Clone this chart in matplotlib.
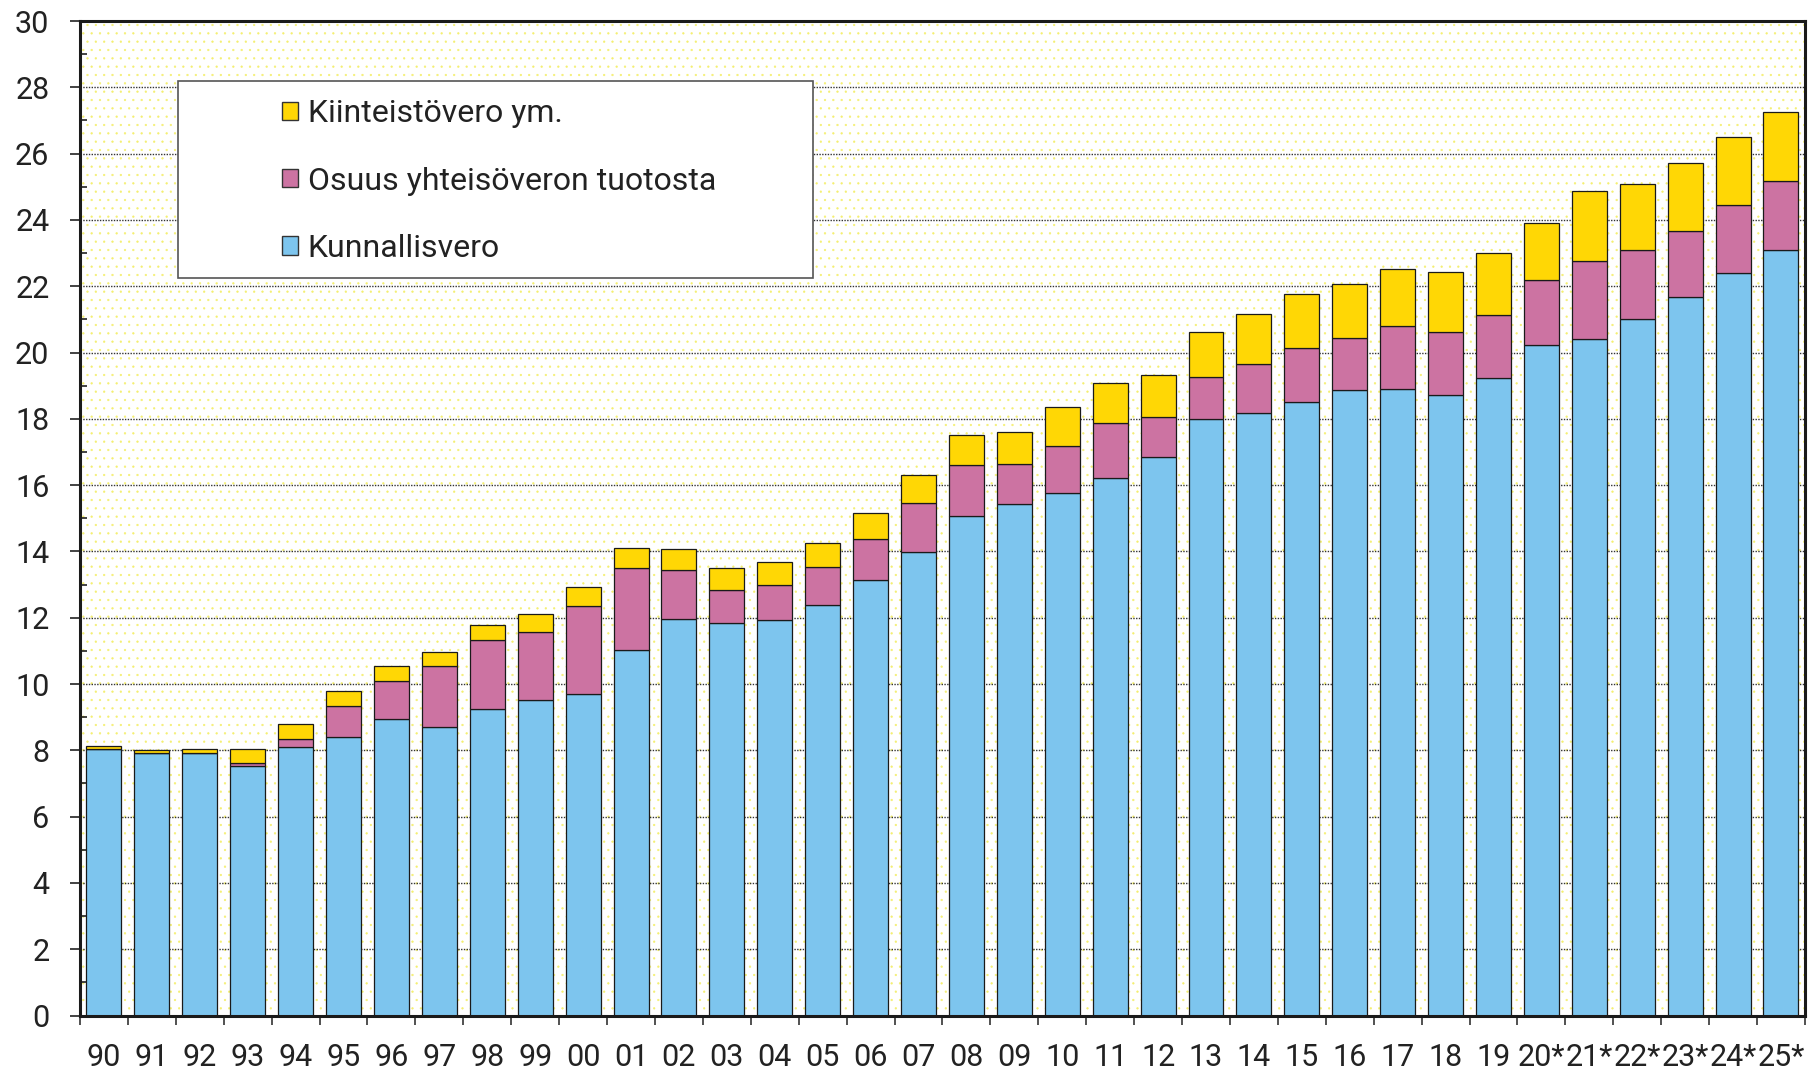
import matplotlib
matplotlib.use("Agg")
import matplotlib.pyplot as plt
import matplotlib.patches as mpatches
from matplotlib.ticker import MultipleLocator
import numpy as np

plt.rcParams['font.family'] = ['Roboto', 'DejaVu Sans']
plt.rcParams['hatch.linewidth'] = 0.4

years = ['90', '91', '92', '93', '94', '95', '96', '97', '98', '99',
         '00', '01', '02', '03', '04', '05', '06', '07', '08', '09',
         '10', '11', '12', '13', '14', '15', '16', '17', '18', '19',
         '20*', '21*', '22*', '23*', '24*', '25*']

# mrd euroa
kunnallisvero = [8.05, 7.93, 7.93, 7.54, 8.11, 8.41, 8.95, 8.70, 9.25, 9.52,
                 9.69, 11.04, 11.95, 11.85, 11.93, 12.37, 13.13, 13.98, 15.08, 15.44,
                 15.77, 16.22, 16.84, 17.98, 18.18, 18.52, 18.87, 18.91, 18.73, 19.23,
                 20.22, 20.42, 21.01, 21.67, 22.40, 23.09]
yhteisovero = [0.00, 0.00, 0.00, 0.09, 0.24, 0.93, 1.15, 1.85, 2.08, 2.06,
               2.67, 2.45, 1.49, 0.99, 1.06, 1.16, 1.25, 1.47, 1.52, 1.20,
               1.41, 1.65, 1.22, 1.29, 1.48, 1.62, 1.56, 1.89, 1.89, 1.91,
               1.97, 2.35, 2.08, 1.99, 2.06, 2.08]
kiinteistovero = [0.08, 0.09, 0.10, 0.42, 0.45, 0.46, 0.45, 0.42, 0.45, 0.52,
                  0.57, 0.62, 0.63, 0.66, 0.70, 0.72, 0.79, 0.84, 0.92, 0.96,
                  1.17, 1.21, 1.27, 1.36, 1.51, 1.61, 1.65, 1.73, 1.80, 1.87,
                  1.72, 2.11, 2.00, 2.05, 2.05, 2.08]

labels = ['Kiinteistövero ym.', 'Osuus yhteisöveron tuotosta', 'Kunnallisvero']
colors = ['#FFD705', '#CC73A2', '#7DC5EE']

x = np.arange(len(years))
b = np.array(kunnallisvero)
p = np.array(yhteisovero)
k = np.array(kiinteistovero)

fig = plt.figure(figsize=(18.14, 10.72), dpi=100)
ax = fig.add_axes([0.0441, 0.0527, 0.9509, 0.9277])

# light yellow dotted background
ax.patch.set_facecolor('white')
ax.patch.set_hatch('..')
ax.patch.set_edgecolor('#F4EF70')
ax.patch.set_linewidth(0)

w = 0.73
ec = '#1a1a1a'
ax.bar(x, b, w, color=colors[2], edgecolor=ec, linewidth=0.9, zorder=3)
ax.bar(x, p, w, bottom=b, color=colors[1], edgecolor=ec, linewidth=0.9, zorder=3)
ax.bar(x, k, w, bottom=b + p, color=colors[0], edgecolor=ec, linewidth=0.9, zorder=3)

ax.set_xlim(-0.5, len(years) - 0.5)
ax.set_ylim(0, 30)

ax.yaxis.set_major_locator(MultipleLocator(2))
ax.yaxis.set_minor_locator(MultipleLocator(1))
ax.yaxis.grid(True, which='major', linestyle=(0, (1, 1)), color='#333333', linewidth=1.0)
ax.set_axisbelow(True)

ax.tick_params(axis='y', which='major', direction='out', length=7, width=1.2,
               labelsize=22, pad=15, colors='#222222')
ax.tick_params(axis='y', which='minor', direction='in', length=5, width=1.2, color='#222222')

ax.set_xticks(x)
ax.set_xticklabels(years)
ax.set_xticks(np.arange(-0.5, len(years)), minor=True)
ax.tick_params(axis='x', which='major', length=0, labelsize=22, pad=19.5, colors='#222222')
ax.tick_params(axis='x', which='minor', direction='out', length=6.5, width=1.2, color='#333333')

for s in ['left', 'bottom', 'top', 'right']:
    ax.spines[s].set_linewidth(2.2)
    ax.spines[s].set_color('#1a1a1a')
    ax.spines[s].set_zorder(6)

# legend box
box = mpatches.Rectangle((0.0568, 0.7413), 0.3682, 0.1984, transform=ax.transAxes,
                         facecolor='white', edgecolor='#555555', linewidth=1.2, zorder=5)
ax.add_patch(box)

handles = [mpatches.Patch(facecolor=c, edgecolor='#333333', linewidth=1.0) for c in colors]
leg = ax.legend(handles, labels, loc='center left', bbox_to_anchor=(0.1171, 0.8391),
                frameon=False, fontsize=23, handlelength=0.5, handleheight=0.5,
                handletextpad=0.3, labelspacing=1.2, borderpad=0, borderaxespad=0)
leg.set_zorder(7)
for t in leg.get_texts():
    t.set_color('#222222')

fig.savefig('out.png', dpi=100)
